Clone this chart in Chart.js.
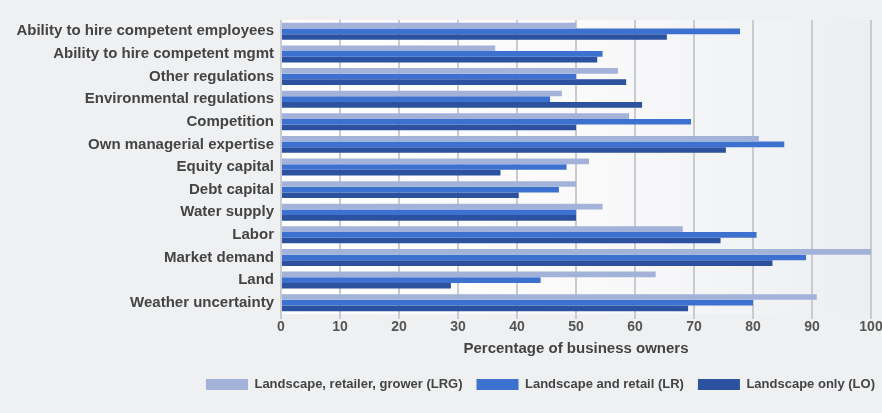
<!DOCTYPE html>
<html>
<head>
<meta charset="utf-8">
<script src="https://cdn.jsdelivr.net/npm/chart.js@4/dist/chart.umd.min.js"></script>
<style>
  html, body { margin: 0; padding: 0; background: #eff0f2; }
  #wrap { width: 882px; height: 413px; }
</style>
</head>
<body>
<div id="wrap"><canvas id="chart"></canvas></div>
<script>
const factors = [
  'Ability to hire competent employees',
  'Ability to hire competent mgmt',
  'Other regulations',
  'Environmental regulations',
  'Competition',
  'Own managerial expertise',
  'Equity capital',
  'Debt capital',
  'Water supply',
  'Labor',
  'Market demand',
  'Land',
  'Weather uncertainty'
];

const lrg = [50, 36.3, 57.1, 47.6, 59, 81, 52.2, 50, 54.5, 68.1, 100, 63.5, 90.8];
const lr  = [77.8, 54.5, 50, 45.6, 69.5, 85.3, 48.4, 47.1, 50, 80.6, 89, 44, 80];
const lo  = [65.4, 53.6, 58.5, 61.2, 50, 75.4, 37.2, 40.3, 50, 74.5, 83.3, 28.8, 69];

const xTicks = [0, 10, 20, 30, 40, 50, 60, 70, 80, 90, 100];

// light panel behind the plot area, whiter on the left
const plotBackground = {
  id: 'plotBackground',
  beforeDraw(chart) {
    const { ctx, chartArea: a } = chart;
    const g = ctx.createLinearGradient(a.left, 0, a.right, 0);
    g.addColorStop(0, '#ffffff');
    g.addColorStop(0.5, '#fafafb');
    g.addColorStop(1, '#eceef1');
    ctx.save();
    ctx.fillStyle = g;
    ctx.fillRect(a.left, a.top, a.right - a.left, a.bottom - a.top);
    ctx.restore();
  }
};

const textColor = '#444';
const font = (size) => ({ family: 'Liberation Sans', size, weight: 'bold' });

new Chart(document.getElementById('chart'), {
  type: 'bar',
  plugins: [plotBackground],
  data: {
    labels: factors,
    datasets: [
      { label: 'Landscape, retailer, grower (LRG)', data: lrg, backgroundColor: '#a3b2d9' },
      { label: 'Landscape and retail (LR)', data: lr, backgroundColor: '#3d71cf' },
      { label: 'Landscape only (LO)', data: lo, backgroundColor: '#2b519f' }
    ]
  },
  options: {
    indexAxis: 'y',
    responsive: true,
    maintainAspectRatio: false,
    animation: false,
    categoryPercentage: 0.75,
    barPercentage: 1.0,
    layout: { padding: { top: 20, right: -7, left: 0, bottom: 12 } },
    scales: {
      x: {
        min: 0,
        max: 100,
        afterBuildTicks(scale) {
          scale.ticks = xTicks.map(v => ({ value: v }));
        },
        afterFit(scale) {
          scale.paddingRight = 11;
          scale.paddingLeft = 0;
          scale.height = 50;
        },
        grid: {
          color: '#c9cbcf',
          lineWidth: 2,
          drawTicks: true,
          tickLength: 5
        },
        border: { display: false },
        ticks: {
          color: '#555',
          padding: 0,
          font: font(14)
        },
        title: {
          display: true,
          text: 'Percentage of business owners',
          color: textColor,
          padding: { top: 4, bottom: 6 },
          font: font(15)
        }
      },
      y: {
        afterFit(scale) {
          scale.width = 281;
        },
        grid: { display: false, drawTicks: false },
        border: { display: true, color: '#c9cbcf', width: 1 },
        ticks: {
          color: textColor,
          padding: 7,
          autoSkip: false,
          font: font(15)
        }
      }
    },
    plugins: {
      tooltip: { enabled: false },
      legend: {
        position: 'bottom',
        align: 'end',
        labels: {
          boxWidth: 42,
          boxHeight: 11,
          padding: 14,
          color: textColor,
          font: font(13)
        }
      }
    }
  }
});
</script>
</body>
</html>
